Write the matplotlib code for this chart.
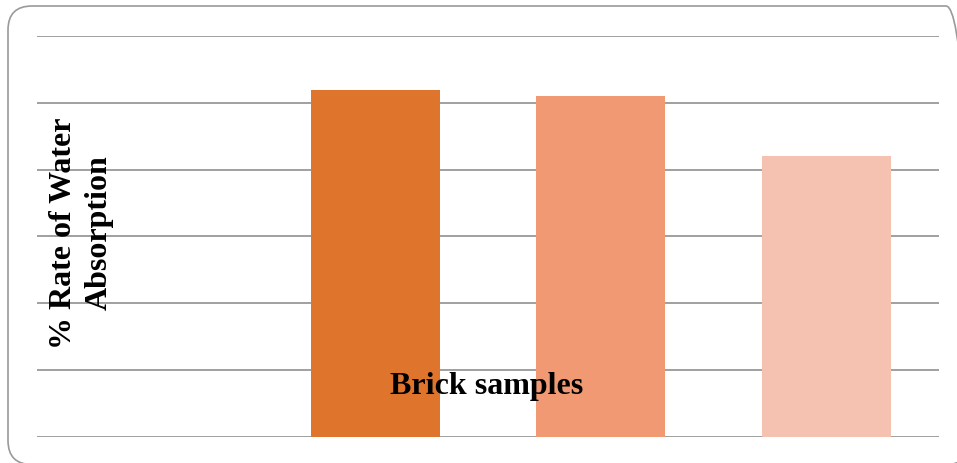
import matplotlib.pyplot as plt
from matplotlib.patches import FancyBboxPatch

# water absorption per brick sample (first slot is left empty)
samples = ["", "Sample 1", "Sample 2", "Sample 3"]
absorption = [0, 5.19, 5.10, 4.21]
bar_colors = ["#DF742D", "#DF742D", "#F09972", "#F5C2B1"]
grid_levels = [0, 1, 2, 3, 4, 5, 6]

fig = plt.figure(figsize=(9.57, 4.63), dpi=100)
ax = fig.add_axes([0.039, 0.0568, 0.942, 0.8654])

ax.bar(samples, absorption, width=0.572, color=bar_colors, zorder=3)
ax.set_xlim(-0.5, 3.5)
ax.set_ylim(0, 6)
ax.set_yticks(grid_levels)
ax.yaxis.grid(True, color="#a0a0a0", linewidth=1.4, zorder=0)
ax.tick_params(left=False, bottom=False, labelleft=False, labelbottom=False)
for s in ax.spines.values():
    s.set_visible(False)

ax.text(0.498, 0.125, "Brick samples", transform=ax.transAxes,
        ha="center", va="center", fontsize=23, fontweight="bold",
        family="Liberation Serif", zorder=5)
fig.text(0.0846, 0.497, "% Rate of Water\nAbsorption", rotation=90,
         ha="center", va="center", fontsize=23, fontweight="bold",
         family="Liberation Serif", linespacing=1.3)

# rounded frame around the chart, right and bottom sides fall just off the edge
frame = FancyBboxPatch((8, -1.5), 962, 458.5, boxstyle="round,pad=0,rounding_size=24",
                       transform=None, facecolor="none", edgecolor="#9a9a9a",
                       linewidth=1.2)
fig.patches.append(frame)

fig.savefig("out.png", dpi=100)
